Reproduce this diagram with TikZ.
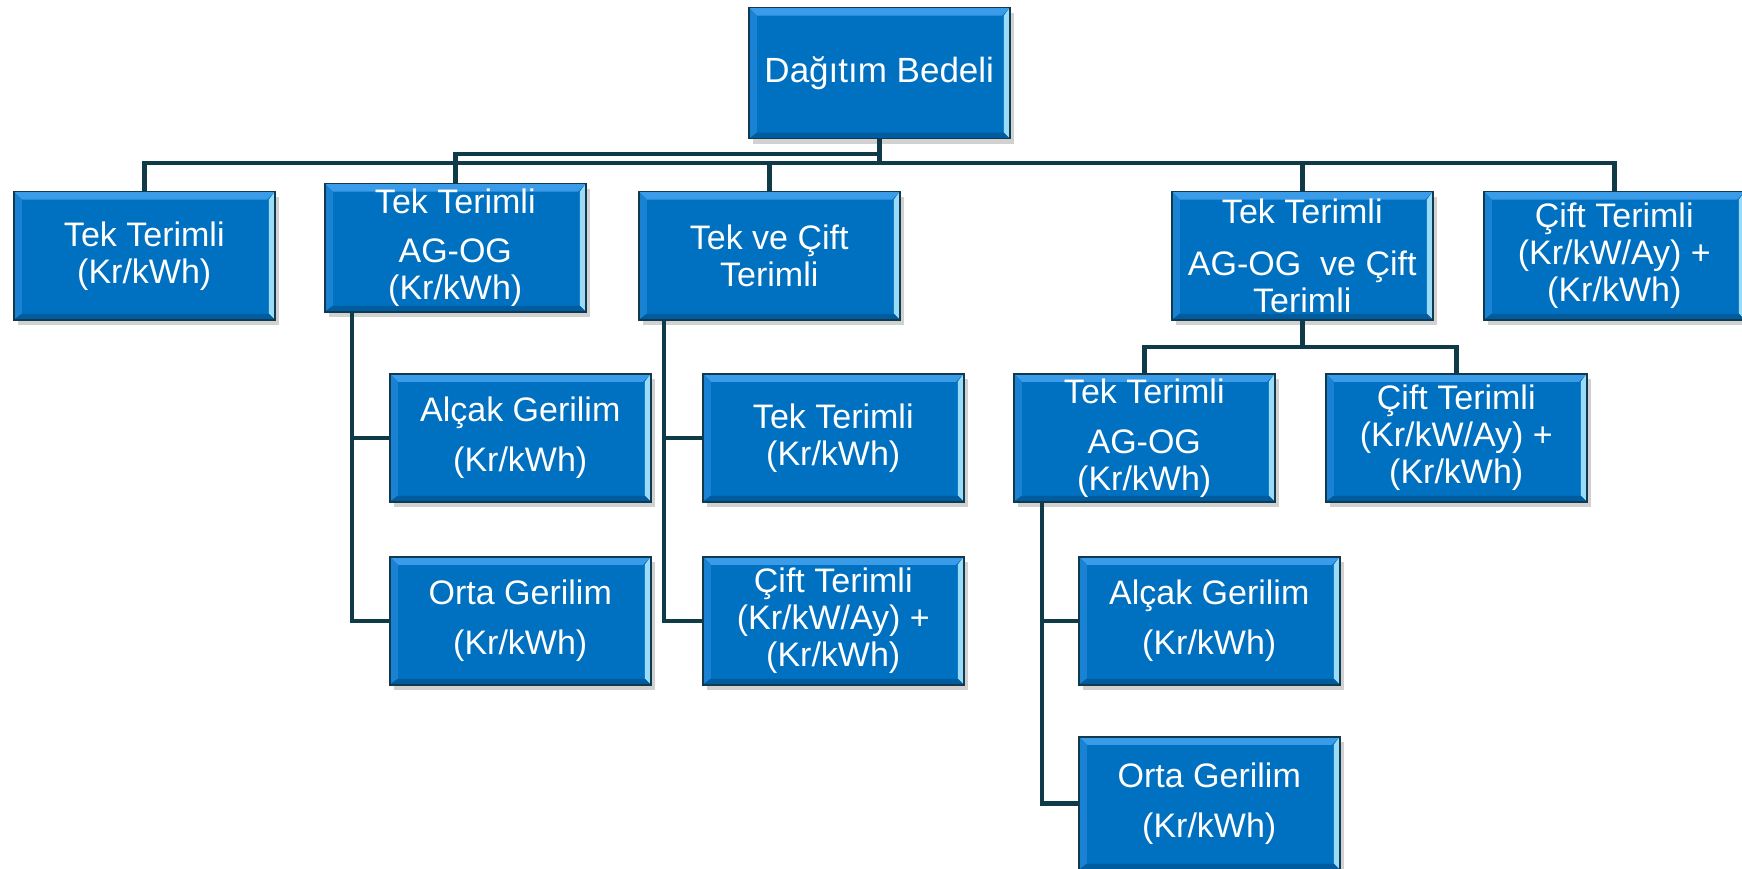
\documentclass[tikz,border=0pt]{standalone}
\usepackage{fontspec}
\setmainfont{Liberation Sans}
\usetikzlibrary{shadows}
\definecolor{boxblue}{HTML}{0070C0}
\definecolor{bevtop}{HTML}{3A9CE8}
\definecolor{bevleft}{HTML}{1A82D2}
\definecolor{bevright}{HTML}{9ADCF8}
\definecolor{bevbot}{HTML}{005C9E}
\definecolor{bdr}{HTML}{123A4E}
\definecolor{conncol}{HTML}{0E3B47}
\tikzset{
  tbox/.style={rectangle, draw=bdr, line width=1.5pt, fill=boxblue, text=white,
    minimum width=261pt, minimum height=128pt, inner sep=0pt, align=center,
    font=\fontsize{34}{37}\selectfont, anchor=north west,
    drop shadow={shadow xshift=4pt, shadow yshift=-5pt, opacity=0.3, fill=black!60},
    path picture={
      \fill[bevtop] (path picture bounding box.north west) -- (path picture bounding box.north east)
        -- ([xshift=-8pt,yshift=-8pt]path picture bounding box.north east)
        -- ([xshift=8pt,yshift=-8pt]path picture bounding box.north west) -- cycle;
      \fill[bevright] (path picture bounding box.north east) -- (path picture bounding box.south east)
        -- ([xshift=-6pt,yshift=6pt]path picture bounding box.south east)
        -- ([xshift=-6pt,yshift=-8pt]path picture bounding box.north east) -- cycle;
      \fill[bevleft] (path picture bounding box.north west) -- (path picture bounding box.south west)
        -- ([xshift=8pt,yshift=6pt]path picture bounding box.south west)
        -- ([xshift=8pt,yshift=-8pt]path picture bounding box.north west) -- cycle;
      \fill[bevbot] (path picture bounding box.south west) -- (path picture bounding box.south east)
        -- ([xshift=-6pt,yshift=6pt]path picture bounding box.south east)
        -- ([xshift=8pt,yshift=6pt]path picture bounding box.south west) -- cycle;
    }},
  conn/.style={draw=conncol, line width=4.5pt, line join=miter}
}
\begin{document}
\begin{tikzpicture}[x=1pt,y=-1pt]
\useasboundingbox (0,0) rectangle (1742,869);
\coordinate (bus) at (0,163);
\coordinate (bustwo) at (0,154);
\coordinate (busfour) at (0,347);
\coordinate (vtwo) at (352,0);
\coordinate (vthree) at (664,0);
\coordinate (vfour) at (1042,0);

% boxes
\node[tbox, minimum height=131pt, font=\fontsize{35}{38}\selectfont] (root) at (748,7) {Dağıtım Bedeli};
\node[tbox] (b1) at (13,191) {Tek Terimli\\(Kr/kWh)};
\node[tbox] (b2) at (324,183) {Tek Terimli\\[12pt]AG-OG\\(Kr/kWh)};
\node[tbox] (b3) at (638,191) {Tek ve Çift\\Terimli};
\node[tbox] (b4) at (1171,191) {Tek Terimli\\[15pt]AG-OG~ ve Çift\\Terimli};
\node[tbox] (b5) at (1483,191) {Çift Terimli\\(Kr/kW/Ay) +\\(Kr/kWh)};
\node[tbox] (a1) at (389,373) {Alçak Gerilim\\[13pt](Kr/kWh)};
\node[tbox] (a2) at (389,556) {Orta Gerilim\\[13pt](Kr/kWh)};
\node[tbox] (t1) at (702,373) {Tek Terimli\\(Kr/kWh)};
\node[tbox] (t2) at (702,556) {Çift Terimli\\(Kr/kW/Ay) +\\(Kr/kWh)};
\node[tbox] (c1) at (1013,373) {Tek Terimli\\[13pt]AG-OG\\(Kr/kWh)};
\node[tbox] (c2) at (1325,373) {Çift Terimli\\(Kr/kW/Ay) +\\(Kr/kWh)};
\node[tbox] (d1) at (1078,556) {Alçak Gerilim\\[13pt](Kr/kWh)};
\node[tbox, minimum height=133pt] (d2) at (1078,736) {Orta Gerilim\\[13pt](Kr/kWh)};

% connectors
\draw[conn] (root.south) -- (root.south |- bus);
\draw[conn] (b1.north) -- (b1.north |- bus) -- (b5.north |- bus) -- (b5.north);
\draw[conn] (b3.north |- bus) -- (b3.north);
\draw[conn] (b4.north |- bus) -- (b4.north);
\draw[conn] (root.south |- bustwo) -- (b2.north |- bustwo) -- (b2.north);
\draw[conn] (vtwo |- b2.south) |- (a2.west);
\draw[conn] (vtwo |- a1.west) -- (a1.west);
\draw[conn] (vthree |- b3.south) |- (t2.west);
\draw[conn] (vthree |- t1.west) -- (t1.west);
\draw[conn] (b4.south) -- (b4.south |- busfour);
\draw[conn] (c1.north) -- (c1.north |- busfour) -- (c2.north |- busfour) -- (c2.north);
\draw[conn] (vfour |- c1.south) |- (d2.west);
\draw[conn] (vfour |- d1.west) -- (d1.west);
\end{tikzpicture}
\end{document}
